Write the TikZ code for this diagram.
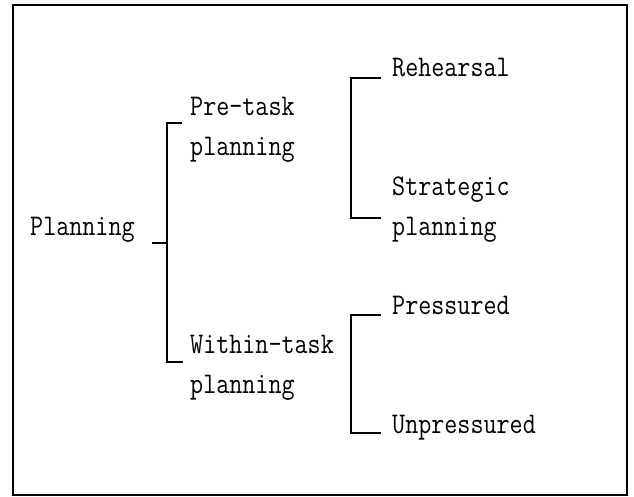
\documentclass[tikz,border=0pt]{standalone}
\usepackage{graphicx}
\newcommand\narrow[1]{\scalebox{0.845}[1]{#1}}
\begin{document}
\begin{tikzpicture}[x=1pt,y=-1pt,
  lbl/.style={inner sep=0pt,anchor=base west,
    font=\ttfamily\fontsize{30}{36}\selectfont},
  brace/.style={line width=1.5pt,line cap=rect},
  frame/.style={line width=1.5pt}]
\useasboundingbox (0,0) rectangle (634,497);
\draw[frame] (13,5) rectangle (627,495);

% labels
\node[lbl] (plan)     at (30,235)  {\narrow{Planning}};
\node[lbl] (pre)      at (190,116) {\narrow{Pre-task}};
\node[lbl] (pre2)     at (190,156) {\narrow{planning}};
\node[lbl] (within)   at (190,353) {\narrow{Within-task}};
\node[lbl] (within2)  at (190,393) {\narrow{planning}};
\node[lbl] (reh)      at (392,77)  {\narrow{Rehearsal}};
\node[lbl] (strat)    at (392,196) {\narrow{Strategic}};
\node[lbl] (strat2)   at (392,235) {\narrow{planning}};
\node[lbl] (press)    at (392,314) {\narrow{Pressured}};
\node[lbl] (unpress)  at (392,433) {\narrow{Unpressured}};

% bracket points
\coordinate (p0) at (153,243);
\coordinate (p1) at (167,243);
\coordinate (a1) at (181,123);
\coordinate (a2) at (167,123);
\coordinate (a3) at (167,362);
\coordinate (a4) at (182,362);
\coordinate (r1) at (380,78);
\coordinate (r2) at (351,78);
\coordinate (r3) at (351,218);
\coordinate (r4) at (380,218);
\coordinate (w1) at (380,315);
\coordinate (w2) at (351,315);
\coordinate (w3) at (351,433);
\coordinate (w4) at (380,433);

\draw[brace] (p0) -- (p1);
\draw[brace] (a1) -- (a2) -- (a3) -- (a4);
\draw[brace] (r1) -- (r2) -- (r3) -- (r4);
\draw[brace] (w1) -- (w2) -- (w3) -- (w4);
\end{tikzpicture}
\end{document}
